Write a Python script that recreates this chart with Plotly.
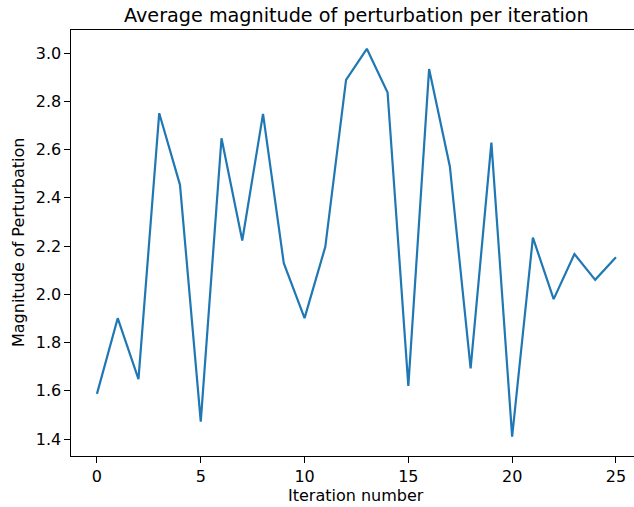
import plotly.graph_objects as go

iterations = list(range(26))
magnitude = [1.587, 1.901, 1.648, 2.751, 2.454, 1.472, 2.647, 2.223, 2.748, 2.129,
             1.901, 2.197, 2.889, 3.018, 2.837, 1.620, 2.934, 2.530, 1.693, 2.629,
             1.410, 2.235, 1.980, 2.167, 2.060, 2.154]
x_ticks = [0, 5, 10, 15, 20, 25]
y_ticks = [1.4, 1.6, 1.8, 2.0, 2.2, 2.4, 2.6, 2.8, 3.0]

FONT = "DejaVu Sans"
L, R, T, B = 71, 0, 30, 51
W, H = 634, 507

fig = go.Figure()
fig.add_trace(go.Scatter(x=iterations, y=magnitude, mode="lines",
                         line=dict(color="#1f77b4", width=2.2)))

axis_common = dict(showgrid=False, zeroline=False, showline=True, linecolor="black",
                   linewidth=1.2, ticks="outside", ticklen=5.5, tickwidth=1.2,
                   tickcolor="black", tickfont=dict(family=FONT, size=16, color="#000000"))

fig.update_layout(
    width=W, height=H,
    margin=dict(l=L, r=R, t=T, b=B, pad=0),
    paper_bgcolor="white", plot_bgcolor="white",
    showlegend=False,
    xaxis=dict(range=[-1.25, 25.87], tickvals=x_ticks, mirror=True, **axis_common),
    yaxis=dict(range=[1.3295, 3.096], tickvals=y_ticks, tickformat=".1f", mirror=False,
               **axis_common),
    annotations=[
        dict(text="Average magnitude of perturbation per iteration", xref="paper", yref="paper",
             x=(356.4 - L) / (W - L), y=1 + 15 / (H - T - B), xanchor="center", yanchor="middle",
             showarrow=False, font=dict(family=FONT, size=19.2, color="#000000")),
        dict(text="Iteration number", xref="paper", yref="paper",
             x=(356.4 - L) / (W - L), y=-(495 - 456) / (H - T - B), xanchor="center", yanchor="middle",
             showarrow=False, font=dict(family=FONT, size=16, color="#000000")),
        dict(text="Magnitude of Perturbation", xref="paper", yref="paper",
             x=-(L - 18) / (W - L), y=0.5, xanchor="center", yanchor="middle", textangle=-90,
             showarrow=False, font=dict(family=FONT, size=16, color="#000000")),
    ],
)

fig.write_html("out.html")
